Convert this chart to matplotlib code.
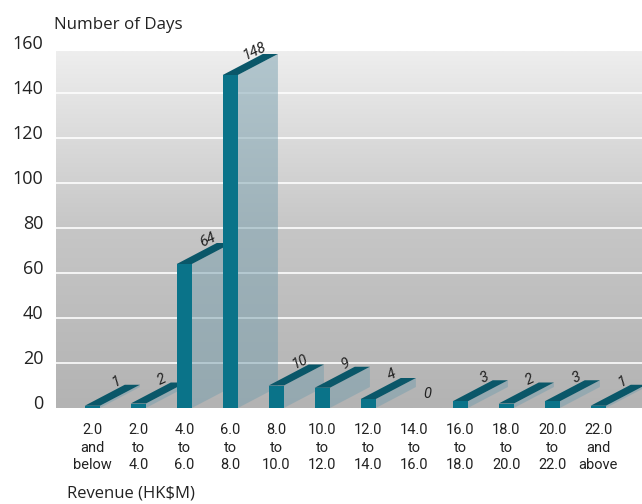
import numpy as np
import matplotlib
matplotlib.use('Agg')
import matplotlib.pyplot as plt
from matplotlib.colors import LinearSegmentedColormap
from matplotlib.patches import Polygon, Rectangle
import matplotlib.transforms as mtransforms

categories = ["2.0\nand\nbelow", "2.0\nto\n4.0", "4.0\nto\n6.0", "6.0\nto\n8.0",
              "8.0\nto\n10.0", "10.0\nto\n12.0", "12.0\nto\n14.0", "14.0\nto\n16.0",
              "16.0\nto\n18.0", "18.0\nto\n20.0", "20.0\nto\n22.0", "22.0\nand\nabove"]
days = [1, 2, 64, 148, 10, 9, 4, 0, 3, 2, 3, 1]
y_ticks = [0, 20, 40, 60, 80, 100, 120, 140, 160]

MAIN = ['Open Sans', 'DejaVu Sans']
NARROW = ['Roboto', 'DejaVu Sans']

W, H = 642, 504
fig = plt.figure(figsize=(W / 100, H / 100), dpi=100)
ax = fig.add_axes([56 / W, (H - 408) / H, (W - 56) / W, (408 - 48) / H])

xmin, xmax = -0.79, 11.95
ymin, ymax = 0, 160
ax.set_xlim(xmin, xmax)
ax.set_ylim(ymin, ymax)

# gradient background
cmap = LinearSegmentedColormap.from_list('bg', ['#b3b3b3', '#c6c6c6', '#eeeeee'])
ax.imshow(np.linspace(0, 1, 256).reshape(-1, 1), extent=[xmin, xmax, ymin, 158.5],
          aspect='auto', cmap=cmap, origin='lower', zorder=0, interpolation='bilinear')

for y in y_ticks[1:-1]:
    ax.axhline(y, color='white', lw=1.3, zorder=0.5, alpha=0.9)

# bar geometry (in data units)
w = 0.33
dx = 0.87
dy = 9.33
front_c = '#0a7389'
top_c = '#0a5769'
side_c = '#779fae'

for i, v in enumerate(days):
    z = 2 + i
    if v > 0:
        side = Polygon([(i + w / 2, 0), (i + w / 2 + dx, dy), (i + w / 2 + dx, v + dy), (i + w / 2, v)],
                       closed=True, facecolor=side_c, alpha=0.5, edgecolor='none', zorder=z)
        ax.add_patch(side)
        top = Polygon([(i - w / 2, v), (i + w / 2, v), (i + w / 2 + dx, v + dy), (i - w / 2 + dx, v + dy)],
                      closed=True, facecolor=top_c, edgecolor='none', zorder=z + 0.1)
        ax.add_patch(top)
        ax.add_patch(Rectangle((i - w / 2, 0), w, v, facecolor=front_c, edgecolor='none', zorder=z + 0.2))
        ax.text(i + 0.52, v + dy + 1.3, str(v), rotation=25, ha='center', va='center',
                fontsize=10.5, style='italic', family=NARROW, color='#222222', zorder=30)
    else:
        ax.text(i + 0.27, 6, str(v), rotation=0, ha='center', va='center',
                fontsize=10.5, style='italic', family=NARROW, color='#222222', zorder=30)

ax.set_xticks(range(len(categories)))
ax.set_xticklabels(categories, family=NARROW, fontsize=10.5, linespacing=1.3, color='#222222')
ax.set_yticks(y_ticks)
ax.set_yticklabels([str(t) for t in y_ticks], family=MAIN, fontsize=13, color='#222222')
ax.tick_params(axis='both', length=0)
ax.tick_params(axis='x', pad=11)
ax.tick_params(axis='y', pad=9)
off = mtransforms.ScaledTranslation(0, 0.06, fig.dpi_scale_trans)
for lab in ax.get_yticklabels():
    lab.set_transform(lab.get_transform() + off)
    lab.set_clip_on(False)

for s in ax.spines.values():
    s.set_visible(False)

fig.text(54 / W, 1 - 25 / H, 'Number of Days', family=MAIN, fontsize=12.2, color='#222222',
         ha='left', va='center')
fig.text(67 / W, 1 - 493 / H, 'Revenue (HK$M)', family=MAIN, fontsize=12, color='#222222',
         ha='left', va='center')

fig.savefig('out.png', dpi=100)
